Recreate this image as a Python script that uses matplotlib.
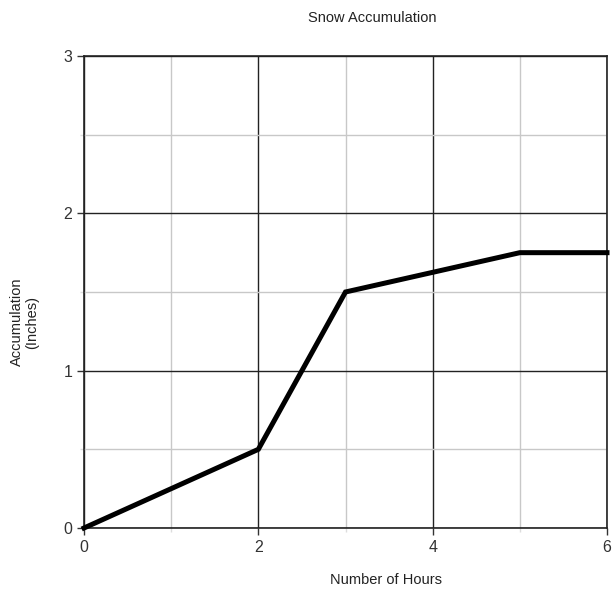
import matplotlib
matplotlib.use("Agg")
import matplotlib.pyplot as plt
from matplotlib.ticker import MultipleLocator

plt.rcParams["font.family"] = ["Liberation Sans", "DejaVu Sans"]

hours = [0, 2, 3, 5, 6]
accumulation = [0, 0.5, 1.5, 1.75, 1.75]

fig = plt.figure(figsize=(6.16, 5.92), dpi=100)
ax = fig.add_axes([84 / 616, 1 - 528 / 592, (607 - 84) / 616, (528 - 56) / 592])

ax.set_xlim(0, 6)
ax.set_ylim(0, 3)
ax.xaxis.set_major_locator(MultipleLocator(2))
ax.xaxis.set_minor_locator(MultipleLocator(1))
ax.yaxis.set_major_locator(MultipleLocator(1))
ax.yaxis.set_minor_locator(MultipleLocator(0.5))

ax.grid(which="major", color="#222222", linewidth=1.0)
ax.grid(which="minor", color="#c8c8c8", linewidth=1.0)
ax.set_axisbelow(True)

ax.tick_params(which="major", length=5, width=1, color="#333333", labelsize=11.5, labelcolor="#333333")
ax.tick_params(which="minor", length=3, width=1, color="#dddddd")
for s in ax.spines.values():
    s.set_color("#222222")
    s.set_linewidth(1.2)

ax.plot(hours, accumulation, color="black", linewidth=3.6, solid_joinstyle="miter", clip_on=False, zorder=5)

fig.text(372 / 616, 1 - 18 / 592, "Snow Accumulation", ha="center", va="center", fontsize=10.5, color="#222222")
fig.text(386 / 616, 1 - 580 / 592, "Number of Hours", ha="center", va="center", fontsize=10.5, color="#222222")
fig.text(25 / 616, 1 - 322 / 592, "Accumulation\n(Inches)", ha="center", va="center", rotation=90,
         fontsize=10.5, color="#222222", linespacing=1.1)

fig.savefig("out.png", dpi=100, facecolor="white")
